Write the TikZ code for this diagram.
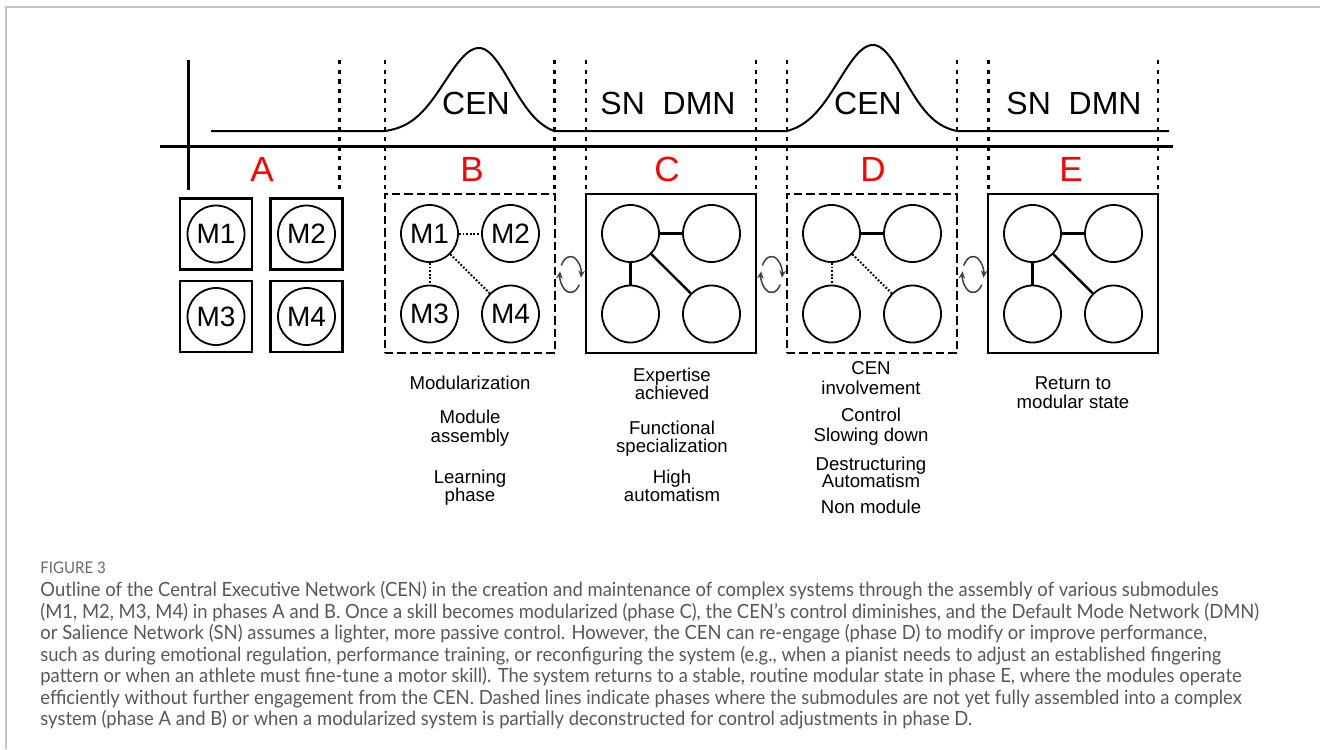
\documentclass[tikz,border=0pt]{standalone}
\usepackage{fontspec}
\setmainfont{Liberation Sans}
\newfontfamily\capfont[FakeStretch=0.94]{Lato}
\usetikzlibrary{arrows.meta}
\definecolor{capgray}{HTML}{585858}
\definecolor{figgray}{HTML}{6A6A6A}
\definecolor{framegray}{HTML}{C4C4C4}
\definecolor{phasered}{HTML}{FF0000}
\begin{document}
\begin{tikzpicture}[x=0.5pt,y=-0.5pt,
  axis/.style={line width=1.5pt},
  divider/.style={line width=1.4pt, dash pattern=on 2.2pt off 2.6pt},
  signal/.style={line width=1pt},
  bigtxt/.style={font=\fontsize{16}{18}\selectfont, inner sep=0pt},
  phase/.style={font=\fontsize{17.5}{19}\selectfont, text=phasered, inner sep=0pt},
  solidbox/.style={draw, line width=1.3pt, minimum width=85pt, minimum height=79.5pt, inner sep=0pt},
  dashbox/.style={solidbox, dash pattern=on 4.2pt off 2pt},
  abox/.style={draw, line width=1.1pt, minimum width=36pt, minimum height=35.5pt, inner sep=0pt},
  mod/.style={circle, draw, line width=0.9pt, minimum size=28.5pt, inner sep=0pt, font=\fontsize{14}{16}\selectfont},
  link/.style={line width=1.2pt},
  weak/.style={line width=1pt, dash pattern=on 0.9pt off 0.9pt},
  cyc/.style={line width=0.75pt, draw=black!75, -{Stealth[length=3.6pt,width=3.3pt]}},
  lbl/.style={font=\fontsize{9.3}{11}\selectfont, anchor=base, inner sep=0pt},
  capline/.style={font=\capfont\fontsize{9.8}{11}\selectfont, text=capgray, anchor=base west, inner sep=0pt},
]
\path[fill=white] (0,0) rectangle (1320,749);
\useasboundingbox (0,0) rectangle (1320,749);
\draw[framegray, line width=1pt] (6,749) -- (6,7) -- (1320,7);

% axes
\draw[axis] (188,60) -- (188,190);
\draw[axis] (160,146.5) -- (1173,146.5);

% phase dividers
\foreach \xx/\yy in {339.5/190, 385/194, 554.5/194, 586/194, 756/194, 787/194, 957/194, 988.5/194, 1158/194}
  \draw[divider] (\xx,60) -- (\xx,\yy);

% activity signal
\draw[signal] (211,131) -- (385,131)
  -- plot[domain=385:554, samples=80]
     (\x,{131-83*(\x<479 ? (exp(-(\x-479)*(\x-479)/2312)-0.0219)/0.9781 : (exp(-(\x-479)*(\x-479)/1985)-0.0588)/0.9412)})
  -- (787,131)
  -- plot[domain=787:957, samples=80]
     (\x,{131-86*(\x<873 ? (exp(-(\x-873)*(\x-873)/2312)-0.0408)/0.9592 : (exp(-(\x-873)*(\x-873)/1985)-0.0286)/0.9714)})
  -- (1169,131);

% network labels
\node[bigtxt] (cenB) at (476,103) {CEN};
\node[bigtxt] (snC) at (668,103) {SN\ \ DMN};
\node[bigtxt] (cenD) at (868,103) {CEN};
\node[bigtxt] (snE) at (1074,103) {SN\ \ DMN};

% phase letters
\node[phase] (pA) at (262,169) {A};
\node[phase] (pB) at (472,169) {B};
\node[phase] (pC) at (667,169) {C};
\node[phase] (pD) at (873,169) {D};
\node[phase] (pE) at (1071,169) {E};

% phase A: separate modules
\node[abox] (bA1) at (216,234) {};
\node[abox] (bA2) at (306.5,234) {};
\node[abox] (bA3) at (216,316.5) {};
\node[abox] (bA4) at (306.5,316.5) {};
\node[mod] (mA1) at (216,234) {M1};
\node[mod] (mA2) at (306.5,234) {M2};
\node[mod] (mA3) at (216,316.5) {M3};
\node[mod] (mA4) at (306.5,316.5) {M4};

% phase B
\node[dashbox] (boxB) at (470,273.5) {};
\node[mod] (mB1) at (429.5,233.5) {M1};
\node[mod] (mB2) at (510.5,233.5) {M2};
\node[mod] (mB3) at (429.5,314) {M3};
\node[mod] (mB4) at (510.5,314) {M4};
\draw[weak] (mB1) -- (mB2);
\draw[weak] (mB1) -- (mB3);
\draw[weak] (mB1) -- (mB4);

% phase C
\node[solidbox] (boxC) at (671,273.5) {};
\node[mod] (mC1) at (630.5,233.5) {};
\node[mod] (mC2) at (711.5,233.5) {};
\node[mod] (mC3) at (630.5,314) {};
\node[mod] (mC4) at (711.5,314) {};
\draw[link] (mC1) -- (mC2);
\draw[link] (mC1) -- (mC3);
\draw[link] (mC1) -- (mC4);

% phase D
\node[dashbox] (boxD) at (872,273.5) {};
\node[mod] (mD1) at (831.5,233.5) {};
\node[mod] (mD2) at (912.5,233.5) {};
\node[mod] (mD3) at (831.5,314) {};
\node[mod] (mD4) at (912.5,314) {};
\draw[link] (mD1) -- (mD2);
\draw[weak] (mD1) -- (mD3);
\draw[weak] (mD1) -- (mD4);

% phase E
\node[solidbox] (boxE) at (1073,273.5) {};
\node[mod] (mE1) at (1032.5,233.5) {};
\node[mod] (mE2) at (1113.5,233.5) {};
\node[mod] (mE3) at (1032.5,314) {};
\node[mod] (mE4) at (1113.5,314) {};
\draw[link] (mE1) -- (mE2);
\draw[link] (mE1) -- (mE3);
\draw[link] (mE1) -- (mE4);

% cycle arrows
\foreach \cx in {570.5, 771.5, 973} {
  \draw[cyc] ([shift={(150:5.3pt and 9pt)}]\cx,274.5) arc[start angle=150, end angle=-10, x radius=5.3pt, y radius=9pt];
  \draw[cyc] ([shift={(-34:5.3pt and 9pt)}]\cx,274.5) arc[start angle=-34, end angle=-190, x radius=5.3pt, y radius=9pt];
}

% descriptions
\node[lbl] (tB1) at (470,389) {Modularization};
\node[lbl] (tB2) at (470,423) {Module};
\node[lbl] (tB3) at (470,442) {assembly};
\node[lbl] (tB4) at (470,483) {Learning};
\node[lbl] (tB5) at (470,501) {phase};

\node[lbl] (tC1) at (672,381) {Expertise};
\node[lbl] (tC2) at (672,399.5) {achieved};
\node[lbl] (tC3) at (672,434.5) {Functional};
\node[lbl] (tC4) at (672,452.5) {specialization};
\node[lbl] (tC5) at (672,483) {High};
\node[lbl] (tC6) at (672,501) {automatism};

\node[lbl] (tD1) at (871,374.5) {CEN};
\node[lbl] (tD2) at (871,394) {involvement};
\node[lbl] (tD3) at (871,421) {Control};
\node[lbl] (tD4) at (871,441) {Slowing down};
\node[lbl] (tD5) at (871,470) {Destructuring};
\node[lbl] (tD6) at (871,487) {Automatism};
\node[lbl] (tD7) at (871,513) {Non module};

\node[lbl] (tE1) at (1073,389.5) {Return to};
\node[lbl] (tE2) at (1073,408) {modular state};

% caption
\node[anchor=base west, inner sep=0pt, font=\capfont\fontsize{8}{9}\selectfont, text=figgray] (fig) at (40,573) {FIGURE 3};
\node[capline] (cap1) at (40,596.5) {Outline of the Central Executive Network (CEN) in the creation and maintenance of complex systems through the assembly of various submodules};
\node[capline] (cap2) at (40,618) {(M1, M2, M3, M4) in phases A and B. Once a skill becomes modularized (phase C), the CEN’s control diminishes, and the Default Mode Network (DMN)};
\node[capline] (cap3) at (40,639.5) {or Salience Network (SN) assumes a lighter, more passive control. However, the CEN can re-engage (phase D) to modify or improve performance,};
\node[capline] (cap4) at (40,661) {such as during emotional regulation, performance training, or reconfiguring the system (e.g., when a pianist needs to adjust an established fingering};
\node[capline] (cap5) at (40,682.5) {pattern or when an athlete must fine-tune a motor skill). The system returns to a stable, routine modular state in phase E, where the modules operate};
\node[capline] (cap6) at (40,704) {efficiently without further engagement from the CEN. Dashed lines indicate phases where the submodules are not yet fully assembled into a complex};
\node[capline] (cap7) at (40,725.5) {system (phase A and B) or when a modularized system is partially deconstructed for control adjustments in phase D.};
\end{tikzpicture}
\end{document}
